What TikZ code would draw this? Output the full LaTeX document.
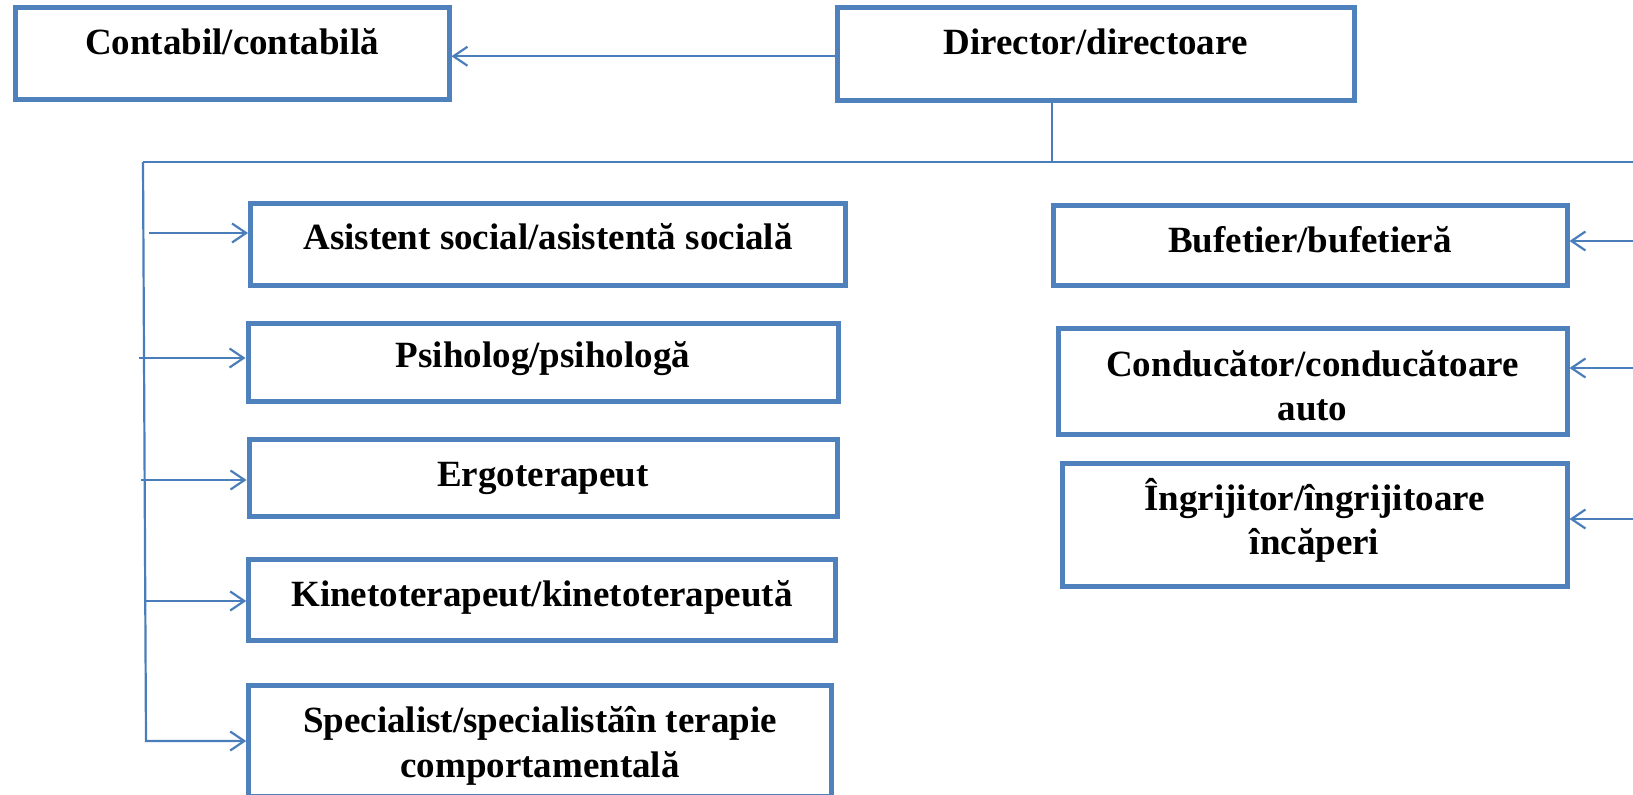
\documentclass[tikz,border=0pt]{standalone}
\usepackage{fontspec}
\setmainfont{Liberation Serif}
\usetikzlibrary{arrows.meta,calc}
\definecolor{bx}{HTML}{4F81BD}
\definecolor{ln}{HTML}{4A7EBB}
\begin{document}
\begin{tikzpicture}[x=1pt,y=-1pt,
  box/.style={draw=bx, line width=5pt, rectangle, inner sep=0pt},
  lbl/.style={font=\fontsize{37}{44.5}\selectfont\bfseries, inner sep=0pt, anchor=base, align=center},
  conn/.style={draw=ln, line width=2.2pt},
  arr/.style={conn, -{Straight Barb[length=14pt,width=19pt]}}]
\fill[white] (0,0) rectangle (1633,795);
\clip (0,0) rectangle (1633,795);
% boxes
\node[box, minimum width=434pt, minimum height=92pt] (cont) at (232,53) {};
\node[box, minimum width=517pt, minimum height=93.5pt] (dir) at (1095.5,53.75) {};
\node[box, minimum width=595pt, minimum height=82.5pt] (asis) at (548,244.25) {};
\node[box, minimum width=590pt, minimum height=78.5pt] (psih) at (543,362.25) {};
\node[box, minimum width=588pt, minimum height=77.7pt] (ergo) at (543,477.85) {};
\node[box, minimum width=586.3pt, minimum height=81.5pt] (kine) at (541.85,599.75) {};
\node[box, minimum width=583pt, minimum height=111pt] (spec) at (540.2,741) {};
\node[box, minimum width=514pt, minimum height=80.5pt] (buf) at (1310,245.25) {};
\node[box, minimum width=509pt, minimum height=106.5pt] (cond) at (1312.5,381.25) {};
\node[box, minimum width=505pt, minimum height=123.5pt] (ingr) at (1314.5,524.75) {};
% labels
\node[lbl] (tcont) at (232,54) {Contabil/contabilă};
\node[lbl] (tdir) at (1095.5,54) {Director/directoare};
\node[lbl] (tasis) at (548,249) {Asistent social/asistentă socială};
\node[lbl] (tpsih) at (543,367.5) {Psiholog/psihologă};
\node[lbl] (tergo) at (543,486.5) {Ergoterapeut};
\node[lbl] (tkine) at (542,606) {Kinetoterapeut/kinetoterapeută};
\node[lbl] (tspec) at (540,777) {Specialist/specialistăîn terapie\\comportamentală};
\node[lbl] (tbuf) at (1310,252) {Bufetier/bufetieră};
\node[lbl] (tcond) at (1312.5,420.5) {Conducător/conducătoare\\auto};
\node[lbl] (tingr) at (1314.5,554.5) {Îngrijitor/îngrijitoare\\încăperi};
% connectors
\coordinate (c1) at ([yshift=-2.5pt]dir.west);
\draw[arr] (c1) -- (c1 -| cont.east);
\coordinate (j) at (1052,162);
\coordinate (bl) at (143,162);
\coordinate (br) at (1633,162);
\coordinate (bb) at (146,741);
\draw[conn] ([xshift=-43.5pt]dir.south) -- (j);
\draw[conn] (bl) -- (br);
\draw[arr] (bl) -- (bb) -- (spec.west);
\coordinate (s1) at (149,233);
\coordinate (s2) at (139,358);
\coordinate (s3) at (141,480);
\coordinate (s4) at (144,601);
\draw[arr] (s1) -- (s1 -| asis.west);
\draw[arr] (s2) -- (s2 -| psih.west);
\draw[arr] (s3) -- (s3 -| ergo.west);
\draw[arr] (s4) -- (s4 -| kine.west);
\coordinate (r1) at (1633,241);
\coordinate (r2) at (1633,368);
\coordinate (r3) at (1633,519);
\draw[arr] (r1) -- (r1 -| buf.east);
\draw[arr] (r2) -- (r2 -| cond.east);
\draw[arr] (r3) -- (r3 -| ingr.east);
\end{tikzpicture}
\end{document}
